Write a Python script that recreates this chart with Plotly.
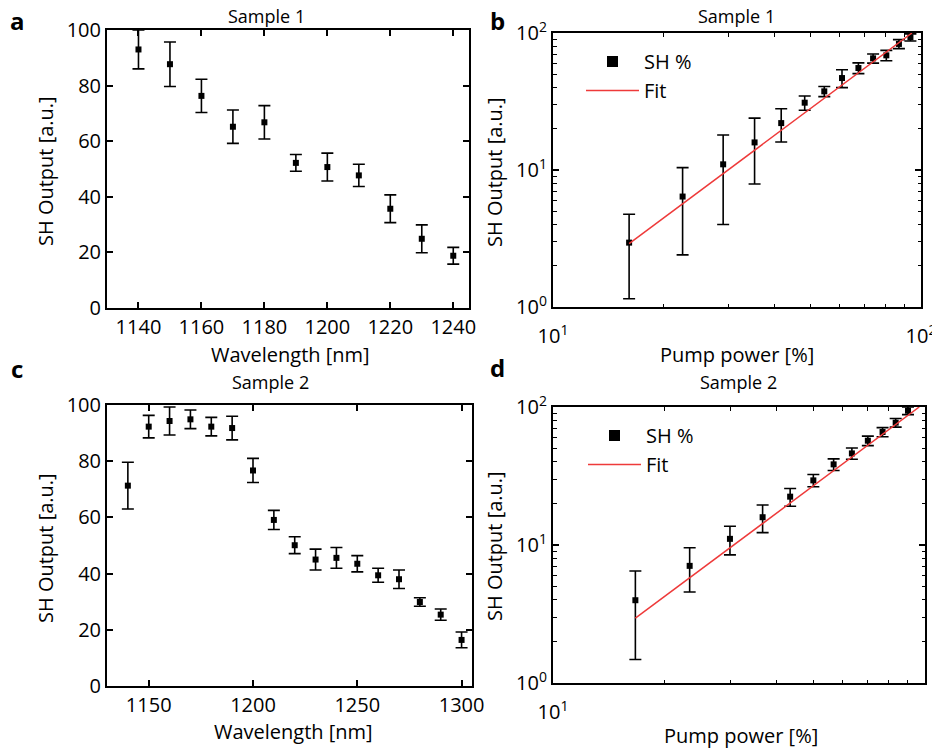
import plotly.graph_objects as go

# ---------------- data ----------------
wl1 = [1140, 1150, 1160, 1170, 1180, 1190, 1200, 1210, 1220, 1230, 1240]
sh1 = [93.0, 87.7, 76.3, 65.2, 66.8, 52.2, 50.7, 47.7, 35.7, 24.9, 18.8]
err1 = [7.0, 8.0, 6.0, 6.0, 6.0, 3.0, 5.0, 4.0, 5.0, 5.0, 3.0]

wl2 = [1140, 1150, 1160, 1170, 1180, 1190, 1200, 1210, 1220, 1230, 1240,
       1250, 1260, 1270, 1280, 1290, 1300]
sh2 = [71.3, 92.3, 94.3, 94.9, 92.3, 91.8, 76.7, 59.1, 50.1, 45.0, 45.6,
       43.5, 39.4, 38.0, 29.9, 25.4, 16.4]
err2 = [8.3, 4.0, 5.0, 3.3, 3.3, 4.2, 4.3, 3.4, 3.0, 3.7, 3.7,
        2.9, 2.5, 3.3, 1.5, 2.0, 2.8]

pump1 = [16.1, 22.5, 29.0, 35.3, 41.7, 48.3, 54.6, 61.0, 67.6, 74.1, 80.5, 87.1, 93.6]
shp1 = [2.95, 6.4, 11.0, 15.9, 22.0, 31.0, 37.5, 46.9, 55.5, 65.3, 68.7, 83.2, 93.0]
errp1 = [1.8, 4.0, 7.0, 8.0, 6.0, 3.7, 3.2, 7.0, 5.0, 5.0, 6.0, 6.3, 5.6]
fit1_x = [16.1, 94.5]
fit1_y = [2.9, 100.0]

pump2 = [16.65, 23.3, 29.9, 36.6, 43.4, 50.1, 56.8, 63.6, 70.2, 76.9, 83.4, 90.0]
shp2 = [3.98, 7.06, 11.08, 15.9, 22.4, 29.4, 38.4, 46.1, 57.0, 65.9, 77.0, 94.0]
errp2 = [2.5, 2.5, 2.6, 3.6, 3.3, 3.0, 3.7, 4.3, 4.5, 5.0, 5.5, 6.0]
fit2_x = [16.65, 96.5]
fit2_y = [2.95, 100.0]

lin_x1_ticks = [1140, 1160, 1180, 1200, 1220, 1240]
lin_x2_ticks = [1150, 1200, 1250, 1300]
lin_y_ticks = [0, 20, 40, 60, 80, 100]
log_ticks = [1, 10, 100]
log_tick_text = ["10<sup>0</sup>", "10<sup>1</sup>", "10<sup>2</sup>"]
log_minor = [2, 3, 4, 5, 6, 7, 8, 9, 20, 30, 40, 50, 60, 70, 80, 90]
x_log_ticks = [10, 100]
x_log_text = ["10<sup>1</sup>", "10<sup>2</sup>"]

# ---------------- layout helpers ----------------
# the page body has an 8px margin; the figure is sized so it ends at the window edge
OFF = 8
W, H = 940 - OFF, 753 - OFF
FONT = "Open Sans"
TICKF = dict(family=FONT, size=20, color="black")


def px_x(p):
    return (p - OFF) / W


def px_y(p):
    return 1 - (p - OFF) / H


fig = go.Figure()

red = "#ee3a3a"
eb = dict(type="data", thickness=1.6, width=6, color="black")
mk = dict(symbol="square", size=6, color="black")
mk_leg = dict(symbol="square", size=11, color="black")

fig.add_trace(go.Scatter(x=wl1, y=sh1, mode="markers", marker=mk,
                         error_y=dict(array=err1, **eb), xaxis="x", yaxis="y",
                         showlegend=False))
fig.add_trace(go.Scatter(x=pump1, y=shp1, mode="markers", marker=mk,
                         error_y=dict(array=errp1, **eb), xaxis="x2", yaxis="y2",
                         showlegend=False))
fig.add_trace(go.Scatter(x=[None], y=[None], mode="markers", marker=mk_leg, name="SH %",
                         xaxis="x2", yaxis="y2", legend="legend"))
fig.add_trace(go.Scatter(x=fit1_x, y=fit1_y, mode="lines", name="Fit",
                         line=dict(color=red, width=1.5), xaxis="x2", yaxis="y2",
                         legend="legend"))
fig.add_trace(go.Scatter(x=wl2, y=sh2, mode="markers", marker=mk,
                         error_y=dict(array=err2, **eb), xaxis="x3", yaxis="y3",
                         showlegend=False))
fig.add_trace(go.Scatter(x=pump2, y=shp2, mode="markers", marker=mk,
                         error_y=dict(array=errp2, **eb), xaxis="x4", yaxis="y4",
                         showlegend=False))
fig.add_trace(go.Scatter(x=[None], y=[None], mode="markers", marker=mk_leg, name="SH %",
                         xaxis="x4", yaxis="y4", legend="legend2"))
fig.add_trace(go.Scatter(x=fit2_x, y=fit2_y, mode="lines", name="Fit",
                         line=dict(color=red, width=1.5), xaxis="x4", yaxis="y4",
                         legend="legend2"))

common = dict(showline=True, linecolor="black", linewidth=2, mirror="allticks",
              ticks="inside", ticklen=6, tickwidth=1.5, tickcolor="black",
              showgrid=False, zeroline=False, tickfont=TICKF, automargin=False)
minor = dict(ticks="inside", ticklen=3.5, tickwidth=1.2, tickcolor="black",
             tickvals=log_minor, showgrid=False)

fig.update_layout(
    xaxis=dict(domain=[px_x(107), px_x(469)], range=[1130, 1245], anchor="y",
               tickvals=lin_x1_ticks, **common),
    yaxis=dict(domain=[px_y(308), px_y(30)], range=[0, 100], anchor="x",
               tickvals=lin_y_ticks, **common),
    xaxis2=dict(domain=[px_x(553), px_x(921)], type="log", range=[1, 2], anchor="y2",
                tickvals=x_log_ticks, ticktext=x_log_text, minor=minor,
                ticklabelstandoff=10, **common),
    yaxis2=dict(domain=[px_y(307), px_y(33)], type="log", range=[0, 2], anchor="x2",
                tickvals=log_ticks, ticktext=log_tick_text, minor=minor, **common),
    xaxis3=dict(domain=[px_x(107), px_x(472)], range=[1130, 1305], anchor="y3",
                tickvals=lin_x2_ticks, **common),
    yaxis3=dict(domain=[px_y(686), px_y(405)], range=[0, 100], anchor="x3",
                tickvals=lin_y_ticks, **common),
    xaxis4=dict(domain=[px_x(553), px_x(925)], type="log", range=[1, 2], anchor="y4",
                tickvals=x_log_ticks, ticktext=x_log_text, minor=minor,
                ticklabelstandoff=10, **common),
    yaxis4=dict(domain=[px_y(683), px_y(407)], type="log", range=[0, 2], anchor="x4",
                tickvals=log_ticks, ticktext=log_tick_text, minor=minor, **common),
)

legend_common = dict(font=dict(family=FONT, size=20, color="black"),
                     bgcolor="rgba(0,0,0,0)", borderwidth=0,
                     xanchor="left", yanchor="top", itemsizing="trace",
                     itemwidth=53, tracegroupgap=0)
fig.update_layout(
    legend=dict(x=px_x(581), y=px_y(42), **legend_common),
    legend2=dict(x=px_x(583), y=px_y(416), **legend_common),
)

ann = []


def text(x, y, s, size, bold=False, angle=0):
    ann.append(dict(x=px_x(x), y=px_y(y), xref="paper", yref="paper", text=s,
                    showarrow=False, textangle=angle, xanchor="center", yanchor="middle",
                    font=dict(family=FONT, size=size, color="black",
                              weight="bold" if bold else "normal")))


text(17, 20, "a", 24, bold=True)
text(497, 20, "b", 24, bold=True)
text(17, 368, "c", 24, bold=True)
text(497, 367, "d", 24, bold=True)
text(266, 16, "Sample 1", 18)
text(736, 16, "Sample 1", 18)
text(270, 382, "Sample 2", 18)
text(738, 382, "Sample 2", 18)
text(290, 354, "Wavelength [nm]", 20)
text(737, 354, "Pump power [%]", 20)
text(293, 731, "Wavelength [nm]", 20)
text(741, 735, "Pump power [%]", 20)
text(45, 171, "SH Output [a.u.]", 20, angle=-90)
text(494, 172, "SH Output [a.u.]", 20, angle=-90)
text(45, 548, "SH Output [a.u.]", 20, angle=-90)
text(494, 546, "SH Output [a.u.]", 20, angle=-90)

fig.update_layout(
    template="none",
    annotations=ann,
    width=W, height=H,
    margin=dict(l=0, r=0, t=0, b=0, pad=0, autoexpand=False),
    paper_bgcolor="white", plot_bgcolor="white",
    font=dict(family=FONT, color="black"),
)

fig.write_html("out.html")
